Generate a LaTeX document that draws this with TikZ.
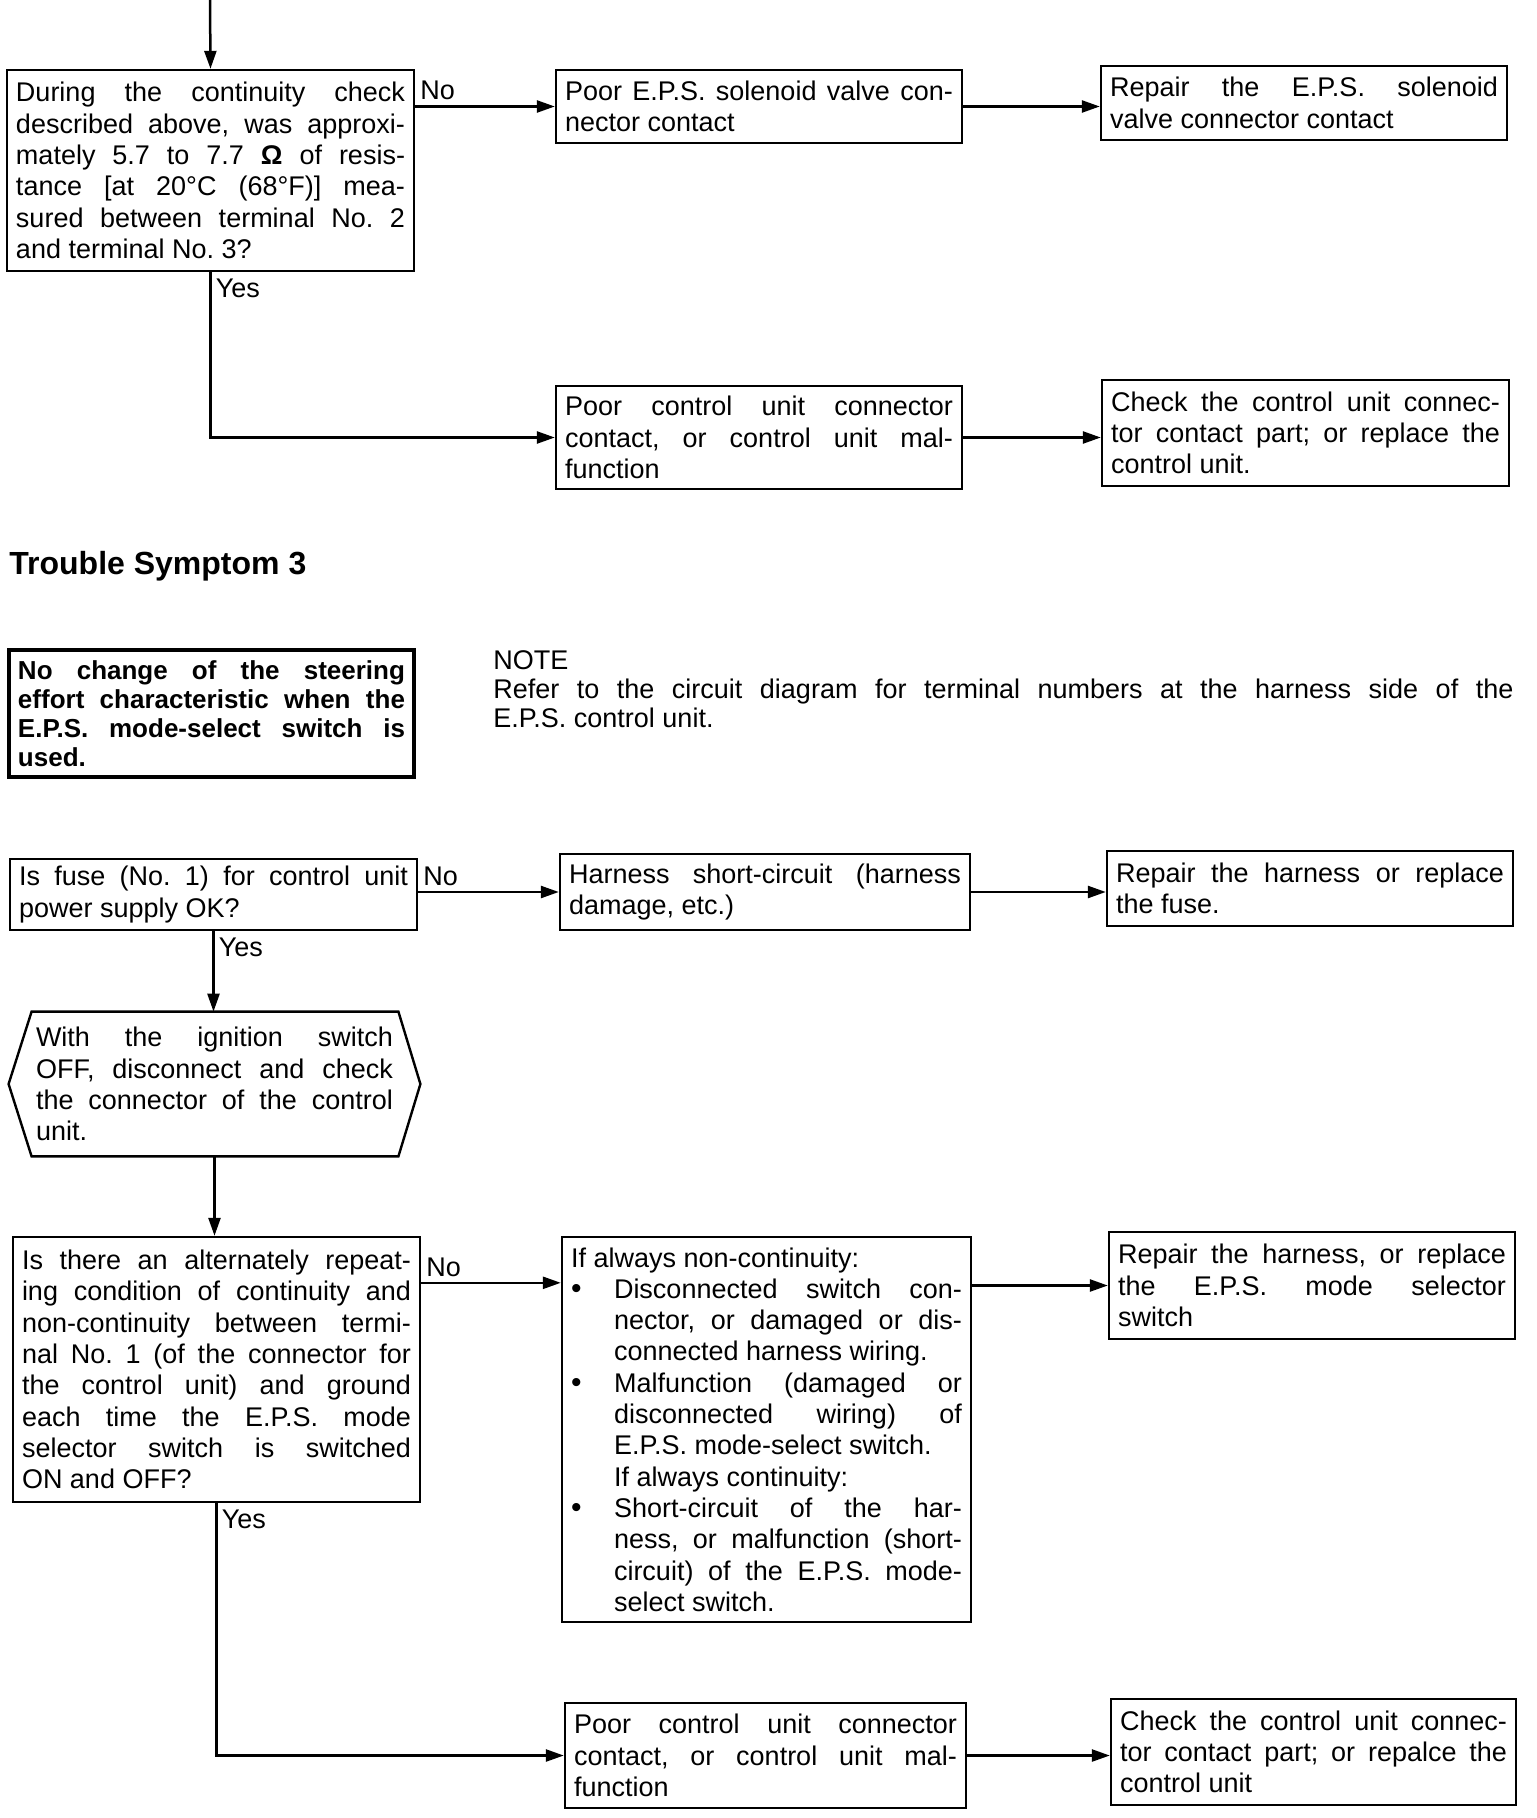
\documentclass[tikz,border=0pt]{standalone}
\usepackage{fontspec}
\setmainfont{Liberation Sans}
\usetikzlibrary{arrows.meta,calc}
\setlength{\parindent}{0pt}
\tolerance=10000
\hbadness=10000
\hyphenpenalty=10000
\frenchspacing
\newcommand{\bodyfont}{\fontsize{13.5}{15.65}\selectfont}
\newcommand{\bitem}{\par\noindent\llap{\makebox[21.5pt][l]{{\fontsize{15}{0}\selectfont\textbullet}}}}
\begin{document}
\begin{tikzpicture}[x=0.5pt,y=-0.5pt,
  box/.style={draw, line width=1.2pt, rectangle, inner xsep=4.5pt, inner ysep=0pt,
    align=justify, font=\bodyfont,
    execute at begin node={\tolerance=10000\hbadness=10000\frenchspacing}},
  lbl/.style={font=\bodyfont, inner xsep=2pt, inner ysep=2.5pt},
  arr/.style={line width=1.25pt, -{Triangle[length=9pt,width=6pt]}},
  conn/.style={line width=1.2pt}]
\fill[white] (0,0) rectangle (1536,1818);
\useasboundingbox (0,0) rectangle (1536,1818);

% ---- upper part ----
\node[box, minimum width=203.5pt, minimum height=100.5pt, text width=194.5pt] (Q1) at (210.5,170.5)
 {During the continuity check\linebreak described above, was approxi-\linebreak mately 5.7 to 7.7 \textbf{Ω} of resis-\linebreak tance [at 20°C (68°F)] mea-\linebreak sured between terminal No. 2\linebreak and terminal No. 3?};
\node[box, minimum width=203pt, minimum height=36.5pt, text width=194pt] (A1) at (759,106.5)
 {Poor E.P.S. solenoid valve con-\linebreak nector contact};
\node[box, minimum width=203pt, minimum height=37pt, text width=194pt] (R1) at (1304,103)
 {Repair the E.P.S. solenoid\linebreak valve connector contact};
\node[box, minimum width=203pt, minimum height=51.5pt, text width=194pt] (B1) at (759,437.5)
 {Poor control unit connector\linebreak contact, or control unit mal-\linebreak function};
\node[box, minimum width=203.5pt, minimum height=53pt, text width=194.5pt] (R2) at (1305.5,433)
 {Check the control unit connec-\linebreak tor contact part; or replace the\linebreak control unit.};

\coordinate (top) at (210,0);
\draw[arr] (top) -- (Q1.north);
\draw[arr] (Q1.east |- A1.west) node[lbl, anchor=south west] {No} -- (A1.west);
\draw[arr] (A1.east) -- (A1.east -| R1.west);
\draw[arr] (Q1.south) node[lbl, anchor=north west] {Yes} |- (B1.west);
\draw[arr] (B1.east) -- (B1.east -| R2.west);

% ---- Trouble Symptom 3 ----
\node[anchor=west, inner sep=0pt, font=\fontsize{16}{19}\selectfont\bfseries] (title) at (9,566) {Trouble Symptom 3};
\node[box, line width=1.8pt, minimum width=202.5pt, minimum height=63.5pt, text width=193.5pt,
  font=\fontsize{13}{14.5}\selectfont\bfseries] (sym) at (211.5,713.5)
 {No change of the steering\linebreak effort characteristic when the\linebreak E.P.S. mode-select switch is\linebreak used.};
\node[anchor=north west, inner sep=0pt, text width=510pt, align=justify,
  font=\fontsize{13.5}{14.5}\selectfont,
  execute at begin node={\tolerance=10000\hbadness=10000\frenchspacing}] (note) at (493,650)
 {NOTE\par Refer to the circuit diagram for terminal numbers at the harness side of the\linebreak E.P.S. control unit.};

\node[box, minimum width=203.5pt, minimum height=35.5pt, text width=194.5pt] (Q2) at (213.5,894.5)
 {Is fuse (No. 1) for control unit\linebreak power supply OK?};
\node[box, minimum width=205pt, minimum height=38pt, text width=196pt] (H) at (765,892)
 {Harness short-circuit (harness\linebreak damage, etc.)};
\node[box, minimum width=203pt, minimum height=37.5pt, text width=194pt] (RH) at (1310,888.5)
 {Repair the harness or replace\linebreak the fuse.};

\node[font=\bodyfont, align=justify, text width=178.5pt, minimum width=205.5pt, minimum height=72pt,
  inner sep=0pt, execute at begin node={\tolerance=10000\hbadness=10000\frenchspacing}] (hex) at (214.5,1084)
 {With the ignition switch\linebreak OFF, disconnect and check\linebreak the connector of the control\linebreak unit.};
\draw[conn, line join=miter] ([xshift=11.5pt]hex.north west) -- ([xshift=-11pt]hex.north east) -- (hex.east)
  -- ([xshift=-11pt]hex.south east) -- ([xshift=11.5pt]hex.south west) -- (hex.west) -- cycle;

\node[box, minimum width=203.5pt, minimum height=132.5pt, text width=194.5pt] (Q3) at (216.5,1369.5)
 {Is there an alternately repeat-\linebreak ing condition of continuity and\linebreak non-continuity between termi-\linebreak nal No. 1 (of the connector for\linebreak the control unit) and ground\linebreak each time the E.P.S. mode\linebreak selector switch is switched\linebreak ON and OFF?};
\node[box, minimum width=204.5pt, minimum height=192.5pt, text width=195.5pt] (L) at (766.5,1429.5)
 {If always non-continuity:\par
  \leftskip=21.5pt
  \bitem Disconnected switch con-\linebreak nector, or damaged or dis-\linebreak connected harness wiring.
  \bitem Malfunction (damaged or\linebreak disconnected wiring) of\linebreak E.P.S. mode-select switch.\par
  If always continuity:
  \bitem Short-circuit of the har-\linebreak ness, or malfunction (short-\linebreak circuit) of the E.P.S. mode-\linebreak select switch.\par};
\node[box, minimum width=203pt, minimum height=53.5pt, text width=194pt] (RL) at (1312,1285.5)
 {Repair the harness, or replace\linebreak the E.P.S. mode selector\linebreak switch};
\node[box, minimum width=200.5pt, minimum height=52.5pt, text width=191.5pt] (B2) at (765.5,1755.5)
 {Poor control unit connector\linebreak contact, or control unit mal-\linebreak function};
\node[box, minimum width=202.5pt, minimum height=53pt, text width=193.5pt] (R3) at (1313.5,1752)
 {Check the control unit connec-\linebreak tor contact part; or repalce the\linebreak control unit};

\draw[arr] (Q2.east |- H.west) node[lbl, anchor=south west] {No} -- (H.west);
\draw[arr] (H.east) -- (H.east -| RH.west);
\draw[arr] (Q2.south) node[lbl, anchor=north west] {Yes} -- (Q2.south |- hex.north);
\draw[arr] (hex.south) -- (hex.south |- Q3.north);
\coordinate (q3no) at ($(Q3.north east)+(0,47)$);
\draw[arr] (q3no) node[lbl, anchor=south west] {No} -- (q3no -| L.west);
\draw[arr] (L.east |- RL.west) -- (RL.west);
\draw[arr] (Q3.south) node[lbl, anchor=north west] {Yes} |- (B2.west);
\draw[arr] (B2.east) -- (B2.east -| R3.west);
\end{tikzpicture}
\end{document}
